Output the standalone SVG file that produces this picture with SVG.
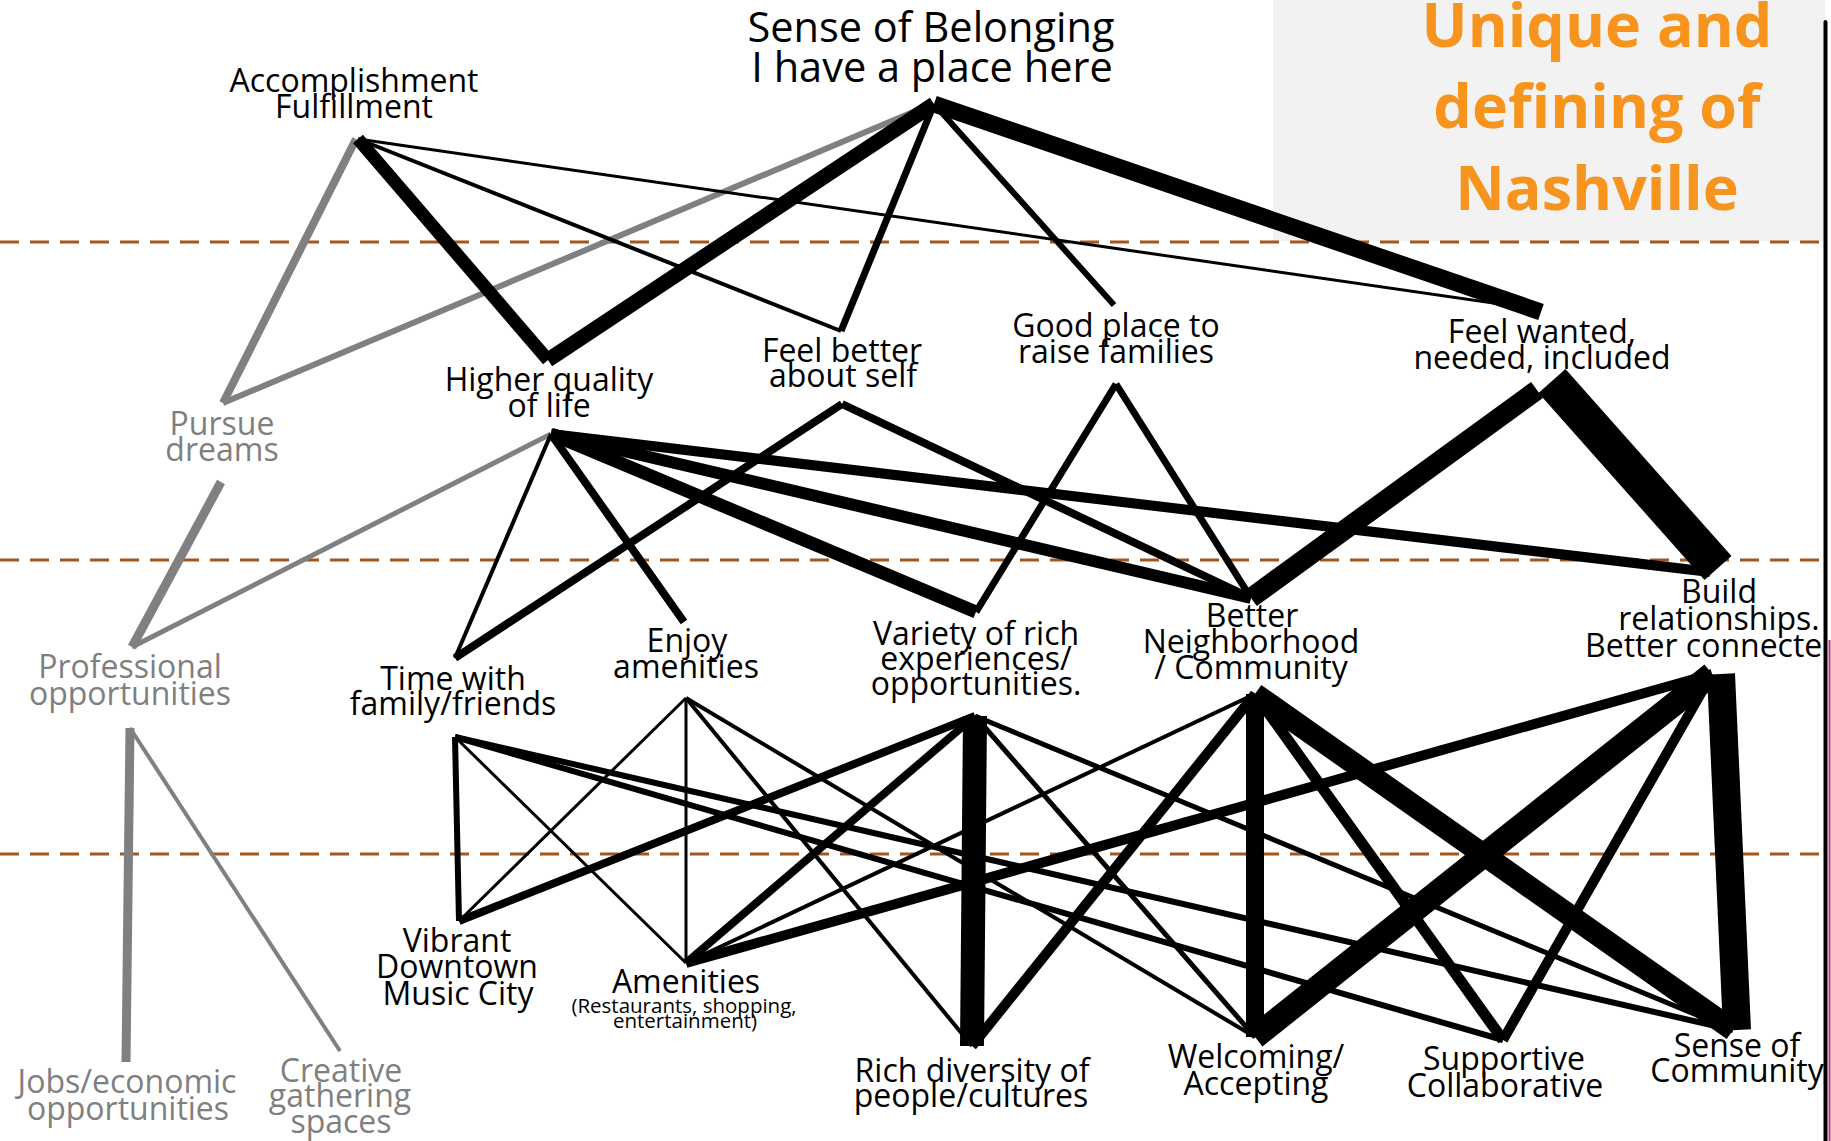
<svg xmlns="http://www.w3.org/2000/svg" width="1831" height="1141" viewBox="0 0 1831 1141">
<style>
.t{font-family:"Open Sans","Liberation Sans",sans-serif;font-size:32px;text-anchor:middle;fill:#000}
.g{fill:#7F7F7F}
.s{font-size:20.5px}
.big{font-size:41.5px}
.title{font-family:"Open Sans","Liberation Sans",sans-serif;font-weight:bold;font-size:61px;text-anchor:middle;fill:#F7941E}
.e{stroke:#000;fill:none;stroke-linecap:butt}
.eg{stroke:#808080}
.dash{stroke:#A3561E;stroke-width:3;stroke-dasharray:19 11;fill:none}
</style>
<rect id="title-box" x="1273" y="0" width="552" height="241" fill="#F2F2F2"/>
<g id="dividers">
<line class="dash" x1="0" y1="242" x2="1822" y2="242"/>
<line class="dash" x1="0" y1="560" x2="1822" y2="560"/>
<line class="dash" x1="0" y1="854" x2="1822" y2="854"/>
</g>
<line id="frame" x1="1825.5" y1="22" x2="1825.5" y2="1141" stroke="#000" stroke-width="4" stroke-linecap="round"/>
<line x1="1829.5" y1="640" x2="1829.5" y2="1141" stroke="#B03A80" stroke-width="2"/>
<g id="connectors">
<line class="e eg" x1="356" y1="139" x2="223" y2="403" stroke-width="8"/>
<line class="e eg" x1="932" y1="104" x2="223" y2="403" stroke-width="6"/>
<line class="e" x1="358" y1="139" x2="548" y2="360" stroke-width="13"/>
<line class="e" x1="358" y1="139" x2="841" y2="331" stroke-width="4"/>
<line class="e" x1="358" y1="139" x2="1535" y2="309" stroke-width="3"/>
<line class="e" x1="934" y1="104" x2="548" y2="360" stroke-width="15"/>
<line class="e" x1="934" y1="104" x2="841" y2="331" stroke-width="7"/>
<line class="e" x1="934" y1="104" x2="1114" y2="305" stroke-width="6"/>
<line class="e" x1="934" y1="104" x2="1541" y2="312" stroke-width="17"/>
<line class="e eg" x1="221" y1="482" x2="132" y2="647" stroke-width="9"/>
<line class="e eg" x1="551" y1="434" x2="132" y2="647" stroke-width="5"/>
<line class="e" x1="551" y1="434" x2="455" y2="658" stroke-width="4"/>
<line class="e" x1="551" y1="434" x2="684" y2="622" stroke-width="8"/>
<line class="e" x1="551" y1="434" x2="976" y2="612" stroke-width="13"/>
<line class="e" x1="551" y1="434" x2="1251" y2="598" stroke-width="12"/>
<line class="e" x1="551" y1="434" x2="1710" y2="572" stroke-width="10"/>
<line class="e" x1="842" y1="404" x2="455" y2="658" stroke-width="8"/>
<line class="e" x1="842" y1="404" x2="1251" y2="598" stroke-width="8"/>
<line class="e" x1="1116" y1="384" x2="976" y2="612" stroke-width="7"/>
<line class="e" x1="1116" y1="384" x2="1251" y2="598" stroke-width="7"/>
<line class="e" x1="1537" y1="390" x2="1251" y2="598" stroke-width="20"/>
<line class="e" x1="1552" y1="381" x2="1718" y2="568" stroke-width="36"/>
<line class="e eg" x1="130" y1="728" x2="126" y2="1062" stroke-width="9"/>
<line class="e eg" x1="130" y1="728" x2="340" y2="1051" stroke-width="4"/>
<line class="e" x1="455" y1="737" x2="459" y2="921" stroke-width="6"/>
<line class="e" x1="455" y1="737" x2="686" y2="963" stroke-width="3"/>
<line class="e" x1="455" y1="737" x2="1503" y2="1040" stroke-width="6"/>
<line class="e" x1="455" y1="737" x2="1733" y2="1030" stroke-width="6"/>
<line class="e" x1="686" y1="698" x2="459" y2="921" stroke-width="3"/>
<line class="e" x1="686" y1="698" x2="686" y2="963" stroke-width="3"/>
<line class="e" x1="686" y1="698" x2="972" y2="1046" stroke-width="4"/>
<line class="e" x1="686" y1="698" x2="1255" y2="1037" stroke-width="4"/>
<line class="e" x1="975" y1="716" x2="459" y2="921" stroke-width="8"/>
<line class="e" x1="975" y1="716" x2="686" y2="963" stroke-width="8"/>
<line class="e" x1="975" y1="716" x2="972" y2="1046" stroke-width="24"/>
<line class="e" x1="975" y1="716" x2="1255" y2="1037" stroke-width="5"/>
<line class="e" x1="975" y1="716" x2="1733" y2="1030" stroke-width="5"/>
<line class="e" x1="1255" y1="694" x2="686" y2="963" stroke-width="4"/>
<line class="e" x1="1255" y1="694" x2="972" y2="1046" stroke-width="10"/>
<line class="e" x1="1255" y1="694" x2="1255" y2="1037" stroke-width="18"/>
<line class="e" x1="1255" y1="694" x2="1503" y2="1040" stroke-width="11"/>
<line class="e" x1="1255" y1="694" x2="1733" y2="1030" stroke-width="22"/>
<line class="e" x1="1712" y1="674" x2="686" y2="963" stroke-width="10"/>
<line class="e" x1="1712" y1="674" x2="1255" y2="1037" stroke-width="24"/>
<line class="e" x1="1712" y1="674" x2="1503" y2="1040" stroke-width="10"/>
<line class="e" x1="1721" y1="674" x2="1737" y2="1030" stroke-width="28"/>
</g>
<g id="title">
<text class="title" x="1597" y="47">Unique and<tspan x="1597" y="128">defining of</tspan><tspan x="1597" y="210">Nashville</tspan></text>
</g>
<g id="sense-of-belonging"><text class="t big" x="931" y="42">Sense of Belonging<tspan x="932" y="82">I have a place here</tspan></text></g>
<g id="accomplishment"><text class="t" x="354" y="92">Accomplishment<tspan x="354" y="118">Fulfillment</tspan></text></g>
<g id="higher-quality"><text class="t" x="549" y="391">Higher quality<tspan x="549" y="417">of life</tspan></text></g>
<g id="pursue-dreams"><text class="t g" x="222" y="435">Pursue<tspan x="222" y="461">dreams</tspan></text></g>
<g id="feel-better"><text class="t" x="842" y="362">Feel better<tspan x="843" y="387">about self</tspan></text></g>
<g id="good-place"><text class="t" x="1116" y="337">Good place to<tspan x="1116" y="363">raise families</tspan></text></g>
<g id="feel-wanted"><text class="t" x="1542" y="343">Feel wanted,<tspan x="1542" y="369">needed, included</tspan></text></g>
<g id="professional"><text class="t g" x="130" y="678">Professional<tspan x="130" y="705">opportunities</tspan></text></g>
<g id="time-with-family"><text class="t" x="453" y="690">Time with<tspan x="453" y="715">family/friends</tspan></text></g>
<g id="enjoy-amenities"><text class="t" x="687" y="652">Enjoy<tspan x="686" y="678">amenities</tspan></text></g>
<g id="variety"><text class="t" x="976" y="645">Variety of rich<tspan x="976" y="670">experiences/</tspan><tspan x="976" y="695">opportunities.</tspan></text></g>
<g id="better-neighborhood"><text class="t" x="1252" y="627">Better<tspan x="1251" y="653">Neighborhood</tspan><tspan x="1251" y="679">/ Community</tspan></text></g>
<g id="build-relationships"><text class="t" x="1719" y="603">Build<tspan x="1719" y="630">relationships.</tspan><tspan x="1585" y="657" style="text-anchor:start">Better connecte</tspan></text></g>
<g id="jobs"><text class="t g" x="127" y="1093">Jobs/economic<tspan x="128" y="1120">opportunities</tspan></text></g>
<g id="creative"><text class="t g" x="341" y="1082">Creative<tspan x="340" y="1107">gathering</tspan><tspan x="341" y="1133">spaces</tspan></text></g>
<g id="vibrant-downtown"><text class="t" x="457" y="952">Vibrant<tspan x="457" y="978">Downtown</tspan><tspan x="458" y="1005">Music City</tspan></text></g>
<g id="amenities"><text class="t" x="686" y="993">Amenities<tspan class="s" x="684" y="1013">(Restaurants, shopping,</tspan><tspan class="s" x="685" y="1028">entertainment)</tspan></text></g>
<g id="rich-diversity"><text class="t" x="972" y="1082">Rich diversity of<tspan x="971" y="1107">people/cultures</tspan></text></g>
<g id="welcoming"><text class="t" x="1256" y="1068">Welcoming/<tspan x="1256" y="1095">Accepting</tspan></text></g>
<g id="supportive"><text class="t" x="1504" y="1070">Supportive<tspan x="1505" y="1097">Collaborative</tspan></text></g>
<g id="sense-of-community"><text class="t" x="1737" y="1057">Sense of<tspan x="1737" y="1082">Community</tspan></text></g>
</svg>
